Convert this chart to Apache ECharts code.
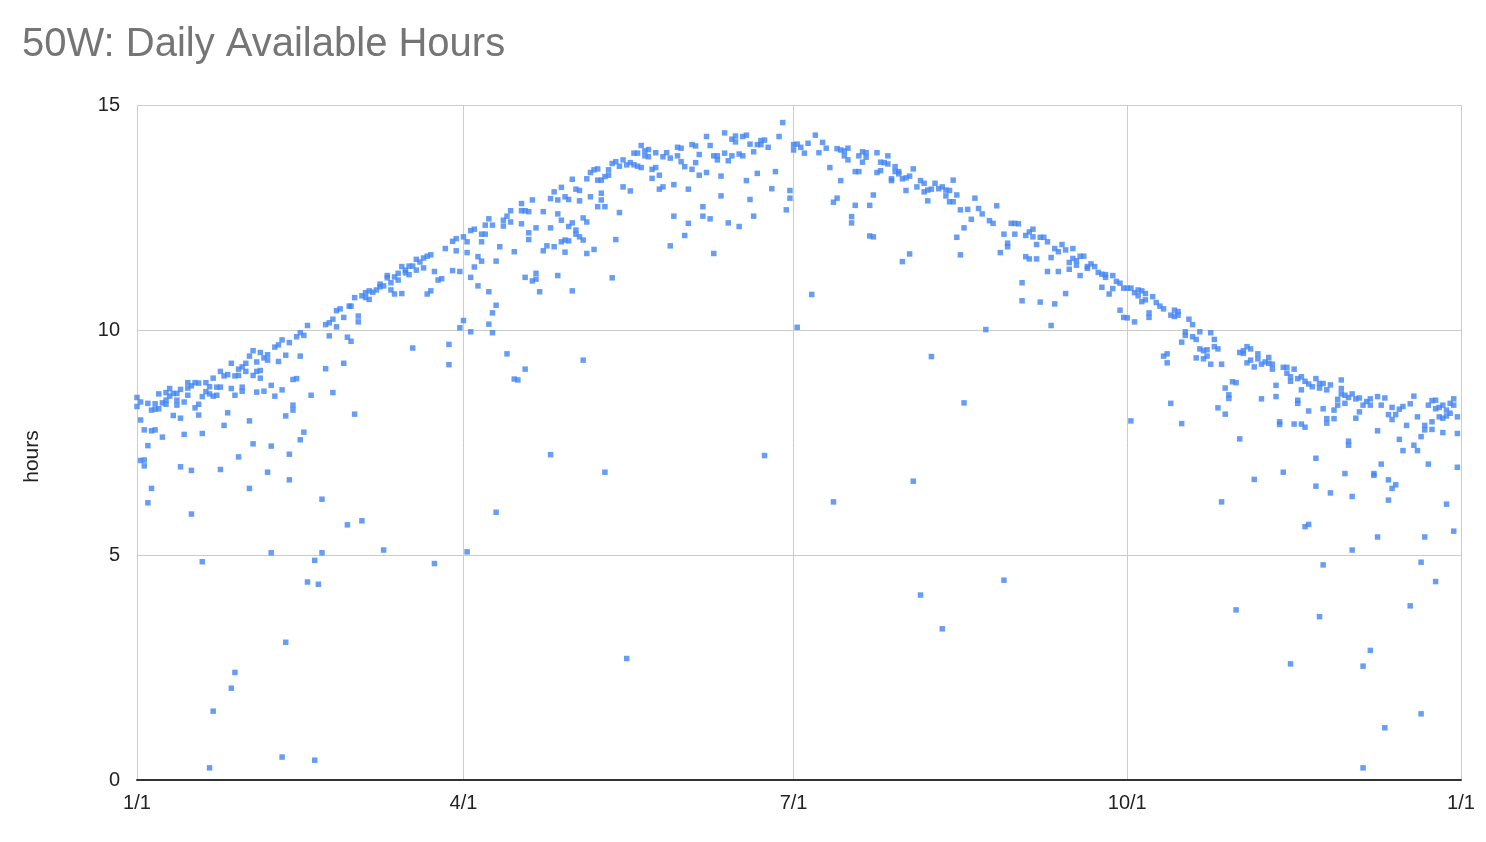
<!DOCTYPE html>
<html>
<head>
<meta charset="utf-8">
<script src="https://cdn.jsdelivr.net/npm/echarts@6/dist/echarts.min.js"></script>
<style>html,body{margin:0;padding:0;background:#fff}#c{width:1486px;height:842px}</style>
</head>
<body>
<div id="c"></div>
<script>
// x = day of year (0 = 1/1), y = hours
const tickDays = [0, 90, 181, 273, 365];
const tickLabels = ['1/1', '4/1', '7/1', '10/1', '1/1'];
const yTicks = [0, 5, 10, 15];

const janMar = [[0,8.5],[0,8.3],[1,8.4],[1,8.0],[1,7.1],[2,7.78],[2,7.11],[2,6.98],[3,8.37],[3,7.43],[3,6.16],[4,8.22],[4,7.76],[4,6.48],[5,8.36],[5,8.24],[5,7.78],[6,8.25],[6,8.58],[7,8.38],[7,7.62],[8,8.61],[8,8.44],[8,8.35],[9,8.7],[9,8.53],[10,8.59],[10,8.1],[11,8.59],[11,8.44],[11,8.33],[12,8.68],[12,8.04],[12,6.96],[13,8.4],[13,7.68],[14,8.83],[14,8.71],[14,8.55],[15,8.76],[15,6.88],[15,5.91],[16,8.83],[16,8.27],[17,8.82],[17,8.35],[17,8.11],[18,8.52],[18,7.7],[18,4.85],[19,8.83],[19,8.63],[20,8.74],[20,8.58],[20,0.27],[21,8.93],[21,8.53],[21,1.53],[22,8.73],[22,8.55],[23,9.08],[23,8.73],[23,6.9],[24,8.98],[24,7.88],[25,9.01],[25,8.16],[26,9.26],[26,8.7],[26,2.04],[27,8.98],[27,8.55],[27,2.39],[28,9.13],[28,8.99],[28,7.18],[29,9.18],[29,8.73],[29,8.64],[30,9.26],[30,9.08],[31,9.42],[31,7.98],[31,6.48],[32,9.54],[32,8.99],[32,7.47],[33,9.29],[33,9.08],[33,8.62],[34,9.5],[34,9.1],[34,8.93],[35,9.38],[35,8.64],[36,9.45],[36,9.33],[36,6.84],[37,8.77],[37,7.42],[37,5.05],[38,9.62],[38,8.53],[39,9.67],[39,9.3],[40,9.78],[40,8.67],[40,0.51],[41,9.44],[41,8.09],[41,3.06],[42,9.72],[42,7.24],[42,6.67],[43,8.9],[43,8.33],[43,8.22],[44,9.85],[44,8.92],[45,9.94],[45,9.42],[45,7.56],[46,9.88],[46,7.73],[47,10.1],[47,4.4],[48,8.55],[49,4.88],[49,0.44],[50,4.35],[51,6.24],[51,5.05],[52,10.12],[52,9.14],[53,10.16],[53,9.87],[54,10.24],[54,8.61],[55,10.43],[55,10.07],[56,10.47],[57,10.28],[57,9.26],[58,9.84],[58,5.67],[58.5,10.53],[59,10.53],[59,9.75],[60,10.72],[60,8.13],[61,10.31],[61,10.18],[62,10.76],[62,5.76],[63,10.83],[63,10.72],[64,10.68],[64,10.87],[65,10.84],[66,10.89],[67,11.02],[67,10.96],[68,10.98],[68,5.11],[69,11.21],[69,11.16],[70,11.05],[70,10.89],[71,11.18],[71,10.8],[72,11.26],[72,11.11],[73,11.41],[73,10.81],[74,11.33],[74,11.27],[75,11.42],[75,11.23],[76,11.42],[76,9.6],[77,11.57],[77,11.33],[78,11.51],[79,11.6],[79,11.38],[80,11.64],[80,10.8],[81,11.67],[81,10.87],[82,11.3],[82,4.81],[83,11.11],[84,11.14],[85,11.81],[86,9.68],[86,9.23],[87,11.97],[87,11.32],[88,12.03],[88,11.76],[89,11.3],[89,10.05]];

const aprJun = [[90,12.07],[90,10.21],[91,11.96],[91,11.72],[91,5.07],[92,12.21],[92,11.17],[92,9.96],[93,12.24],[93,11.4],[94,11.63],[94,10.98],[95,12.13],[95,11.96],[95,11.53],[96,12.33],[96,12.13],[97,12.47],[97,10.85],[97,10.13],[98,12.33],[98,10.38],[98,9.94],[99,11.53],[99,10.55],[99,5.95],[100,11.85],[101,12.44],[101,12.31],[102,12.53],[102,9.47],[103,12.65],[103,12.4],[104,11.74],[104,8.91],[105,8.89],[106,12.81],[106,12.36],[106,12.65],[107,12.65],[107,11.17],[107,9.13],[108,12.16],[108,12.01],[108,12.63],[109,11.09],[109,12.89],[110,12.27],[110,11.26],[110,11.13],[111,10.85],[112,12.63],[112,11.76],[113,11.87],[114,12.27],[114,12.92],[114,7.23],[115,11.85],[115,13.07],[116,12.58],[116,11.21],[116,12.89],[117,13.17],[117,12.44],[117,11.96],[118,12.96],[118,11.73],[118,12.0],[119,12.9],[119,12.3],[119,11.98],[120,13.35],[120,12.38],[120,10.87],[121,13.13],[121,12.22],[121,12.13],[122,13.1],[122,12.87],[122,12.07],[123,12.49],[123,12.0],[123,9.33],[124,13.36],[124,12.4],[124,11.7],[125,13.5],[125,12.96],[126,13.56],[126,11.79],[127,13.58],[127,13.33],[127,12.74],[128,13.33],[128,13.04],[128,12.89],[129,13.41],[129,12.74],[129,6.84],[130,13.56],[130,13.44],[131,13.7],[131,11.16],[132,13.74],[132,12.01],[133,13.64],[133,12.61],[134,13.78],[134,13.18],[135,13.67],[135,2.7],[136,13.72],[136,13.09],[137,13.93],[137,13.67],[138,13.93],[138,13.64],[139,14.1],[139,13.61],[140,13.98],[140,13.87],[141,14.01],[141,13.85],[142,13.57],[142,13.37],[143,13.94],[143,13.61],[144,13.44],[144,13.13],[145,13.85],[145,13.18],[146,13.94],[147,13.82],[147,11.87],[148,13.23],[148,12.53],[149,14.06],[149,13.87],[150,14.04],[150,13.74],[151,13.63],[151,12.1],[152,13.13],[152,12.37],[153,14.12],[153,13.57],[154,14.09],[154,13.72],[155,13.9],[155,13.44],[156,12.74],[156,12.53],[157,14.3],[157,13.5],[158,14.1],[158,12.47],[159,13.87],[159,11.7],[160,13.87],[160,13.78],[161,13.42],[161,12.98],[162,14.38],[162,13.93],[163,13.76],[163,12.38],[164,14.24],[164,13.87],[165,14.31],[165,14.18],[166,13.91],[166,12.3],[167,14.3],[167,13.87],[168,14.33],[168,13.32],[169,14.13],[169,12.9],[170,13.96],[170,12.53],[171,14.12],[171,13.48],[172,14.21],[172,14.12],[173,14.22],[173,7.21],[174,14.06],[175,13.14],[176,13.52],[177,14.3],[178,14.61],[179,12.67],[180,13.1],[180,12.93],[181,14.12],[181,14.0]];

const julSep = [[182,14.13],[182,10.06],[183,14.06],[184,13.93],[185,14.15],[186,10.79],[187,14.33],[188,13.94],[189,14.17],[190,14.04],[191,13.61],[192,12.84],[192,6.18],[193,12.93],[193,14.03],[194,13.32],[194,14.0],[195,13.98],[195,13.87],[196,14.04],[196,13.78],[197,12.52],[197,12.38],[198,13.52],[198,12.77],[199,13.87],[199,13.52],[200,13.96],[200,13.73],[201,13.94],[201,13.84],[202,12.77],[202,12.09],[203,13.0],[203,12.07],[204,13.94],[204,13.5],[205,13.73],[205,13.54],[206,13.72],[207,13.87],[207,13.69],[208,13.36],[208,13.32],[209,13.63],[209,13.52],[210,13.52],[210,13.47],[211,13.36],[211,11.52],[212,13.38],[212,13.1],[213,13.42],[213,11.69],[214,13.58],[214,6.64],[215,13.18],[216,13.32],[216,4.11],[217,13.26],[217,13.07],[218,13.11],[218,12.87],[219,13.13],[219,9.41],[220,13.26],[221,13.14],[222,13.18],[222,3.36],[223,13.11],[223,12.98],[224,13.1],[224,12.85],[225,13.33],[225,12.85],[226,13.0],[226,12.06],[227,11.67],[227,12.67],[228,12.27],[228,8.38],[229,12.68],[230,12.46],[231,12.93],[232,12.7],[233,12.58],[234,10.01],[235,12.43],[236,12.37],[237,12.76],[238,11.72],[239,12.13],[239,4.44],[240,11.93],[240,11.85],[241,12.37],[242,12.37],[242,12.13],[243,12.36],[244,11.05],[244,10.65],[245,12.1],[245,11.63],[246,12.18],[246,11.58],[247,12.24],[247,12.07],[248,11.9],[248,11.58],[249,12.06],[249,10.62],[250,12.06],[251,11.96],[251,11.3],[252,11.61],[252,10.1],[253,11.81],[253,10.58],[254,11.74],[254,11.3],[255,11.9],[256,11.78],[256,10.81],[257,11.5],[257,11.35],[258,11.81],[258,11.59],[259,11.54],[259,11.44],[260,11.64],[260,11.21],[261,11.64],[262,11.41],[262,11.37],[263,11.47],[264,11.41],[265,11.28],[266,11.24],[266,10.95],[267,11.23],[267,11.17],[268,10.8],[269,11.21],[269,10.92],[270,11.08],[271,11.04],[271,10.44],[272,10.93],[272,10.28]];

const octDec = [[273,10.93],[273,10.27],[274,10.93],[274,7.98],[275,10.83],[275,10.18],[276,10.89],[276,10.76],[277,10.87],[277,10.63],[278,10.81],[278,10.67],[279,10.38],[279,10.28],[280,10.74],[281,10.61],[282,10.53],[283,10.47],[283,9.42],[284,9.47],[284,9.27],[285,10.33],[285,8.37],[286,10.44],[286,10.3],[287,10.41],[287,10.33],[288,9.73],[288,7.92],[289,9.96],[289,9.88],[290,10.24],[291,10.12],[291,9.85],[292,9.79],[292,9.38],[293,9.96],[293,9.58],[294,9.54],[294,9.36],[295,9.56],[295,9.42],[296,9.94],[296,9.24],[297,9.79],[297,9.63],[298,9.58],[298,8.27],[299,9.24],[299,6.18],[300,8.71],[300,8.13],[301,8.56],[301,8.48],[302,8.85],[303,8.83],[303,3.78],[304,9.5],[304,7.58],[305,9.48],[305,9.54],[306,9.63],[306,9.27],[307,9.58],[307,9.33],[308,9.18],[308,6.68],[309,9.47],[309,9.36],[310,9.24],[310,8.47],[311,9.29],[312,9.39],[312,9.26],[313,9.24],[313,9.13],[314,8.77],[314,8.52],[315,7.96],[315,7.9],[316,9.17],[316,6.84],[317,9.17],[317,9.04],[318,8.96],[318,8.86],[318,2.58],[319,9.13],[319,7.91],[320,8.92],[320,8.44],[320,8.37],[321,8.96],[321,8.67],[321,7.91],[322,8.86],[322,7.84],[322,5.63],[323,8.8],[323,8.2],[323,5.68],[324,8.74],[325,8.92],[325,7.15],[325,6.53],[326,8.81],[326,8.71],[326,3.63],[327,8.81],[327,8.25],[327,4.78],[328,8.67],[328,8.03],[328,7.93],[329,8.78],[329,6.38],[330,8.22],[330,8.03],[331,8.46],[331,8.33],[332,8.89],[332,8.7],[332,8.58],[333,8.55],[333,8.37],[333,6.81],[334,8.5],[334,7.53],[334,7.44],[335,8.58],[335,6.3],[335,5.11],[336,8.47],[336,8.04],[337,8.49],[337,8.18],[338,8.33],[338,2.53],[338,0.27],[339,8.41],[340,8.47],[340,8.33],[340,2.88],[341,6.81],[341,6.77],[342,8.52],[342,7.76],[342,5.4],[343,8.33],[343,7.02],[344,8.49],[344,1.16],[345,8.12],[345,6.67],[345,6.22],[346,8.28],[346,8.01],[346,6.48],[347,8.12],[347,6.56],[348,8.24],[348,7.57],[349,8.3],[349,7.32],[350,7.88],[351,8.36],[351,3.87],[352,8.53],[352,7.44],[353,8.07],[353,7.32],[354,7.63],[354,4.84],[354,1.47],[355,7.88],[355,7.78],[355,5.4],[356,8.33],[356,7.02],[357,8.43],[357,7.96],[357,7.79],[358,8.44],[358,8.25],[358,4.41],[359,8.28],[359,8.07],[360,8.33],[360,8.04],[360,7.72],[361,8.22],[361,8.09],[361,6.13],[362,8.37],[362,8.15],[363,8.47],[363,8.33],[363,5.53],[364,8.07],[364,7.7],[364,6.95]];

const points = janMar.concat(aprJun, julSep, octDec);
const labelMap = {};
tickDays.forEach((d, i) => { labelMap[d] = tickLabels[i]; });

const chart = echarts.init(document.getElementById('c'), null, { renderer: 'canvas' });
const FONT = '"Liberation Sans", Arial, Helvetica, sans-serif';
chart.setOption({
  backgroundColor: '#ffffff',
  animation: false,
  title: {
    text: '50W: Daily Available Hours',
    left: 17, top: 20,
    textStyle: { color: '#757575', fontSize: 40, fontWeight: 'normal', fontFamily: FONT }
  },
  grid: { left: 137, right: 25, top: 105, bottom: 62, containLabel: false },
  xAxis: {
    type: 'value', min: 0, max: 365,
    axisLine: { show: true, lineStyle: { color: '#333333', width: 2 } },
    axisTick: { show: false, customValues: tickDays },
    axisLabel: {
      customValues: tickDays, color: '#222222', fontSize: 20, fontFamily: FONT, margin: 13,
      formatter: v => labelMap[v] !== undefined ? labelMap[v] : ''
    },
    splitLine: { show: true, lineStyle: { color: '#cccccc', width: 1 } }
  },
  yAxis: {
    type: 'value', min: 0, max: 15, interval: 5,
    name: 'hours', nameLocation: 'middle', nameGap: 94, nameRotate: 90,
    nameTextStyle: { color: '#222222', fontSize: 21, fontFamily: FONT, padding: [0, 28, 0, 0] },
    axisLine: { show: false },
    axisTick: { show: false },
    axisLabel: { color: '#222222', fontSize: 20, fontFamily: FONT, margin: 17,
      formatter: v => yTicks.indexOf(v) >= 0 ? String(v) : '' },
    splitLine: { show: true, lineStyle: { color: '#cccccc', width: 1 } }
  },
  series: [{
    type: 'scatter',
    data: points,
    symbol: 'rect',
    symbolSize: 5.5,
    itemStyle: { color: '#4285f4' },
    z: 3
  }]
});
</script>
</body>
</html>
